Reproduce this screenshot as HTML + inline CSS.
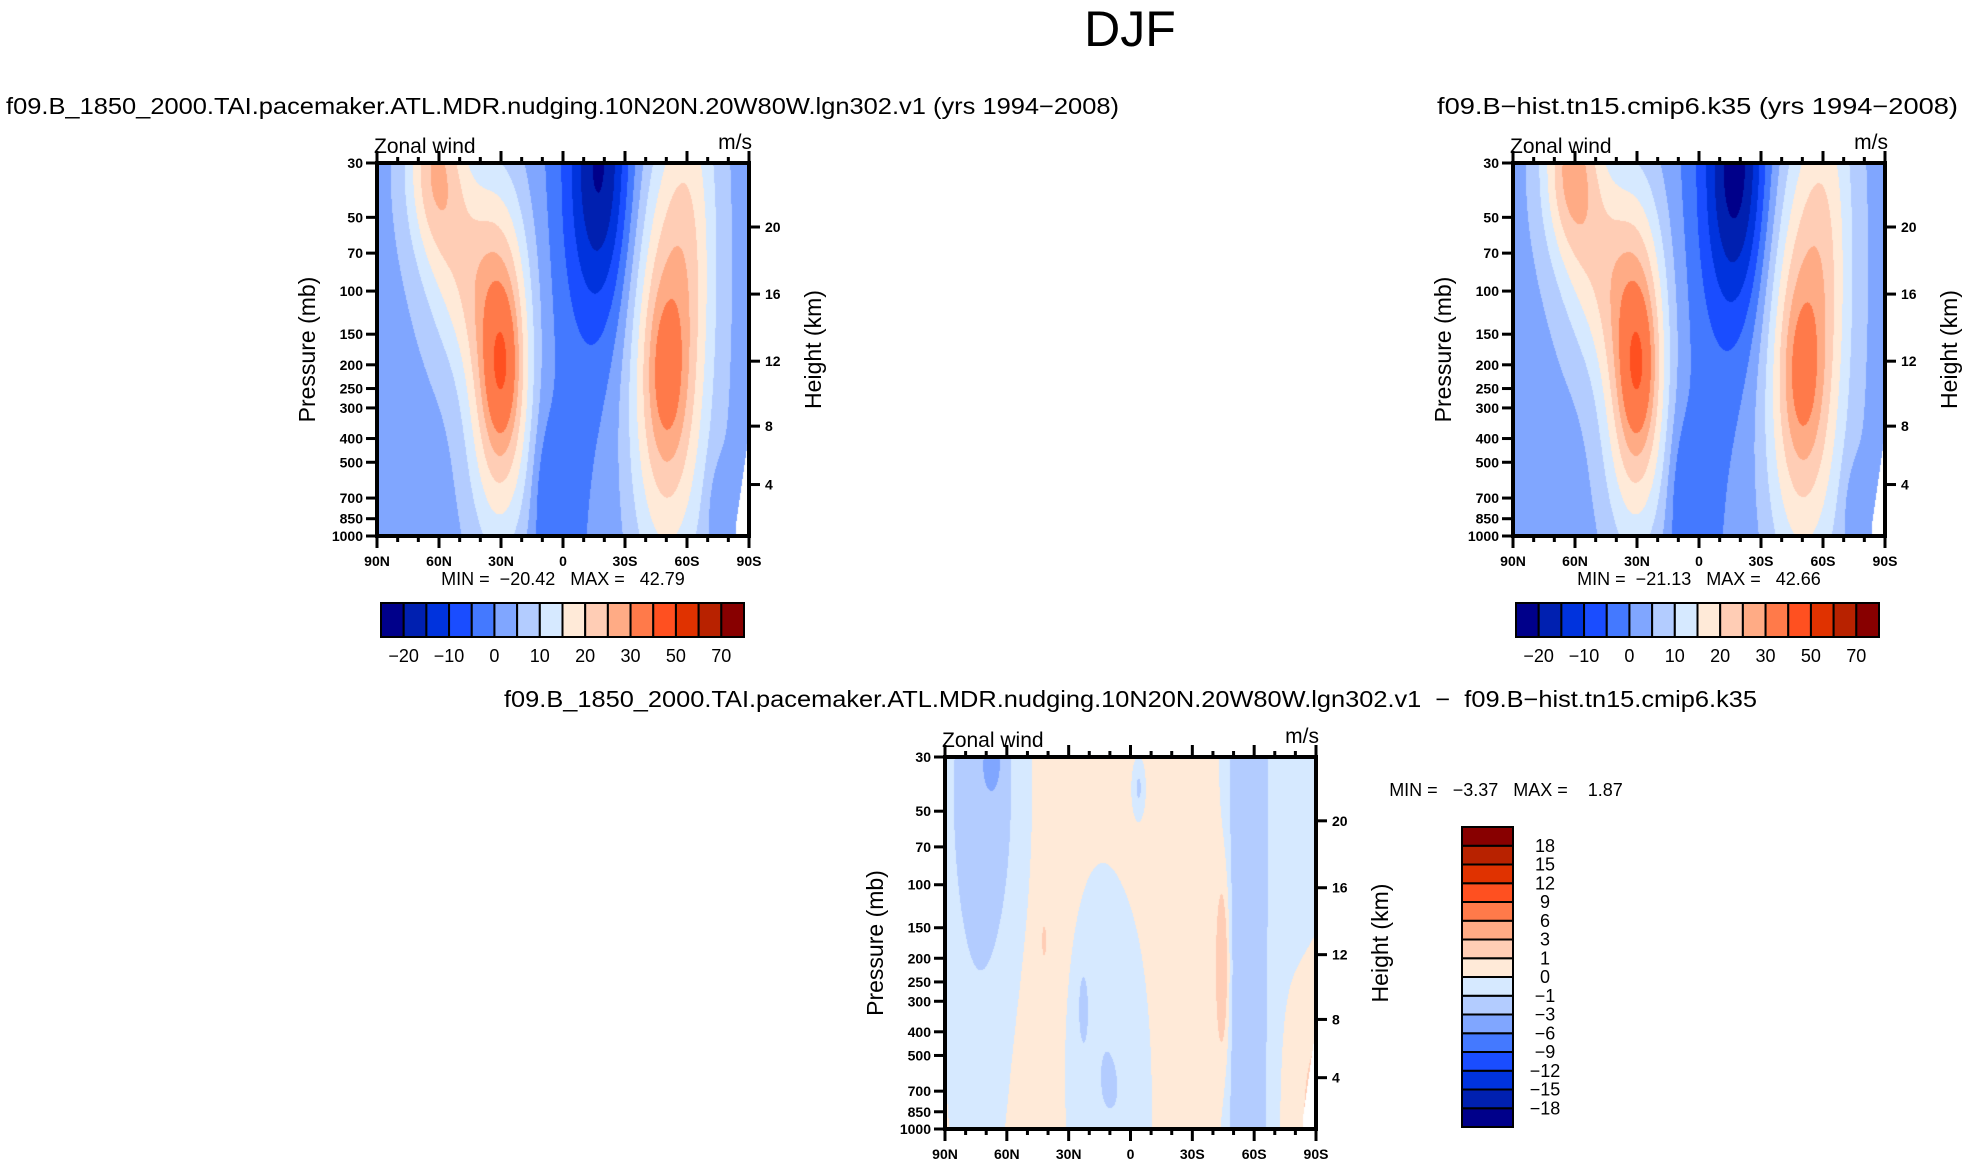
<!DOCTYPE html>
<html><head><meta charset="utf-8">
<style>
html,body{margin:0;padding:0;background:#fff;}
#wrap{position:relative;width:1965px;height:1167px;overflow:hidden;font-family:"Liberation Sans",sans-serif;}
canvas{position:absolute;}
svg{position:absolute;left:0;top:0;}
svg text{white-space:pre;}
</style></head>
<body>
<div id="wrap">
<canvas id="c1" style="left:377px;top:163px" width="372" height="373"></canvas>
<canvas id="c2" style="left:1513px;top:163px" width="372" height="373"></canvas>
<canvas id="c3" style="left:945px;top:757px" width="371" height="372"></canvas>
<svg id="s" width="1965" height="1167"></svg>
</div>
<script>
// ---- data ----
const fullLevels = [-20,-15,-10,-5,0,5,10,15,20,25,30,40,50,60,70];
const fullLabels = ["-20","-10","0","10","20","30","50","70"];
const fullLabelIdx = [0,2,4,6,8,10,12,14];
const diffLevels = [-18,-15,-12,-9,-6,-3,-1,0,1,3,6,9,12,15,18];
const colors = ["#00008a","#0020b0","#0033dd","#1a4dff","#4479ff","#80a6ff","#b3ccff","#d6e9ff","#ffead8","#ffcdb5","#ffab85","#ff7a4a","#ff5020","#e03200","#b82200","#880000"];
const pressureTicks = [30,50,70,100,150,200,250,300,400,500,700,850,1000];
const heightTicks = [4,8,12,16,20];
const latTicks = [90,60,30,0,-30,-60,-90];
const latLabels = ["90N","60N","30N","0","30S","60S","90S"];

// blob fields: x = latitude (deg, +N), y = pressure (mb)
const b1Lat = [30,62,50,-50,-62,-18,2,8,-75,30,-50];
const b1P   = [200,30,80,220,40,30,300,700,800,200,220];
const b1SLat= [11,10,12,13,10,11,22,5,4,5,6];
const b1SY  = [0.32,0.18,0.2,0.38,0.35,0.3,0.9,0.15,0.1,0.12,0.14];
const b1Amp = [30,20,12,24,10,-22,-4,-6,-4,10,7];
const b2Amp = [30,22,12,24,10,-24,-4,-6,-4,10,6];
const base1 = 3;
const b3Lat = [72,67,14,-1,-56,-60,-45,42,23,-4,-90,-85,75];
const b3P   = [40,32,600,900,300,300,220,170,320,40,800,40,700];
const b3SLat= [12,3,11,7,6,9,2.5,1,1.2,2,8,10,12];
const b3SY  = [0.35,0.05,0.35,0.3,2,2,0.18,0.04,0.05,0.05,0.3,0.4,0.35];
const b3Amp = [-2.6,-2.5,-1.3,-0.6,-2.2,-1.0,2.3,1.2,-2.5,-1.5,1.0,-1.2,-0.6];
const base3 = 0.35;

const logTop=Math.log10(30), logBot=Math.log10(1000);
function pFrac(p){return (Math.log10(p)-logTop)/(logBot-logTop);}
function latFrac(l){return (90-l)/180;}
function zToP(z){return z<=11?1013.25*Math.pow(1-6.5*z/288.15,5.2559):226.32*Math.exp(-(z-11)/6.3416);}

function field(lat,p,lats,ps,slats,sys,amps,base){
  let v=base; const yf=pFrac(p);
  for(let i=0;i<amps.length;i++){
    const dx=(lat-lats[i])/slats[i], dy=(yf-pFrac(ps[i]))/sys[i];
    v+=amps[i]*Math.exp(-0.5*(dx*dx+dy*dy));
  }
  return v;
}
function colorIdx(v,levels){let k=0;while(k<levels.length&&v>=levels[k])k++;return k;}
function hex(c){return [parseInt(c.substr(1,2),16),parseInt(c.substr(3,2),16),parseInt(c.substr(5,2),16)];}
const rgb=colors.map(hex);

function drawField(id,amps,lats,ps,slats,sys,base,levels,mask){
  const cv=document.getElementById(id),ctx=cv.getContext('2d');
  const W=cv.width,H=cv.height,img=ctx.createImageData(W,H);
  for(let j=0;j<H;j++){
    const yf=j/(H-1), p=Math.pow(10,logTop+yf*(logBot-logTop));
    for(let i=0;i<W;i++){
      const xf=i/(W-1), lat=90-xf*180;
      let c=[255,255,255];
      if(!(mask && xf>0.965 && yf>0.98-(xf-0.965)*7)){
        c=rgb[colorIdx(field(lat,p,lats,ps,slats,sys,amps,base),levels)];
      }
      const o=(j*W+i)*4;img.data[o]=c[0];img.data[o+1]=c[1];img.data[o+2]=c[2];img.data[o+3]=255;
    }
  }
  ctx.putImageData(img,0,0);
}
drawField('c1',b1Amp,b1Lat,b1P,b1SLat,b1SY,base1,fullLevels,true);
drawField('c2',b2Amp,b1Lat,b1P,b1SLat,b1SY,base1,fullLevels,true);
drawField('c3',b3Amp,b3Lat,b3P,b3SLat,b3SY,base3,diffLevels,true);

// ---- SVG overlay ----
const S=document.getElementById('s'),NS='http://www.w3.org/2000/svg';
function el(tag,attrs,parent){const e=document.createElementNS(NS,tag);for(const k in attrs)e.setAttribute(k,attrs[k]);(parent||S).appendChild(e);return e;}
function txt(x,y,s,size,anchor,extra){const t=el('text',Object.assign({x:x,y:y,'font-size':size,'text-anchor':anchor||'start','font-family':'"Liberation Sans",sans-serif',fill:'#000'},extra||{}));t.textContent=s;return t;}

let t=txt(1130,46,'DJF',50,'middle',{'font-weight':'normal'});


function panel(L,T,W,H,name,minmaxX,minmaxY,minmax){
  const g=el('g',{});
  
  el('rect',{x:L,y:T,width:W,height:H,fill:'none',stroke:'#000','stroke-width':4},g);
  pressureTicks.forEach(p=>{const y=T+pFrac(p)*H;
    el('line',{x1:L-11,x2:L,y1:y,y2:y,stroke:'#000','stroke-width':3},g);
    const tt=txt(L-14,y+5,String(p),14,'end',{'font-weight':'bold'});g.appendChild(tt);
    });
  heightTicks.forEach(z=>{const y=T+pFrac(zToP(z))*H;
    el('line',{x1:L+W,x2:L+W+11,y1:y,y2:y,stroke:'#000','stroke-width':3},g);
    const tt=txt(L+W+16,y+5,String(z),14,'start',{'font-weight':'bold'});g.appendChild(tt);
    });
  for(let lat=90;lat>=-90;lat-=10){const x=L+latFrac(lat)*W,maj=lat%30===0;
    el('line',{x1:x,x2:x,y1:T+H,y2:T+H+(maj?12:6),stroke:'#000','stroke-width':3},g);
    el('line',{x1:x,x2:x,y1:T,y2:T-(maj?12:6),stroke:'#000','stroke-width':3},g);}
  latTicks.forEach((lat,i)=>{const tt=txt(L+latFrac(lat)*W,T+H+30,latLabels[i],14,'middle',{'font-weight':'bold'});g.appendChild(tt);
    });
  let a=txt(L-62,T+H/2,'Pressure (mb)',23,'middle',{transform:`rotate(-90 ${L-62} ${T+H/2})`});g.appendChild(a);
  
  a=txt(L+W+72,T+H/2,'Height (km)',23,'middle',{transform:`rotate(-90 ${L+W+72} ${T+H/2})`});g.appendChild(a);
  
  a=txt(L-3,T-10,'Zonal wind',21,'start');g.appendChild(a);
  
  a=txt(L+W+3,T-14,'m/s',21,'end');g.appendChild(a);
  
  a=txt(minmaxX,minmaxY,minmax,18,'middle');g.appendChild(a);
  
}
panel(377,163,372,373,'panel-experiment',563,585,'MIN =  \u221220.42   MAX =   42.79');
panel(1513,163,372,373,'panel-control',1699,585,'MIN =  \u221221.13   MAX =   42.66');
panel(945,757,371,372,'panel-difference',1506,796,'MIN =   \u22123.37   MAX =    1.87');

t=txt(6,114,'f09.B_1850_2000.TAI.pacemaker.ATL.MDR.nudging.10N20N.20W80W.lgn302.v1 (yrs 1994\u22122008)',23,'start',{textLength:1113,lengthAdjust:'spacingAndGlyphs'});

t=txt(1437,114,'f09.B\u2212hist.tn15.cmip6.k35 (yrs 1994\u22122008)',23,'start',{textLength:521,lengthAdjust:'spacingAndGlyphs'});

t=txt(504,707,'f09.B_1850_2000.TAI.pacemaker.ATL.MDR.nudging.10N20N.20W80W.lgn302.v1  \u2212  f09.B\u2212hist.tn15.cmip6.k35',23,'start',{textLength:1253,lengthAdjust:'spacingAndGlyphs'});


function hbar(L,T,W,H,name){
  const g=el('g',{});
  const n=colors.length,bw=W/n;
  colors.forEach((c,i)=>{const r=el('rect',{x:L+i*bw,y:T,width:bw,height:H,fill:c,stroke:'#000','stroke-width':2},g);
    });
  fullLabels.forEach((s,i)=>{const tt=txt(L+(fullLabelIdx[i]+1)*bw,T+H+25,s.replace('-','\u2212'),18,'middle');g.appendChild(tt);
    });
}
hbar(381,603,363,34,'colorbar-experiment');
hbar(1516,603,363,34,'colorbar-control');

(function(){
  const L=1462,T=827,W=51,H=300;
  const g=el('g',{});
  const n=colors.length,bh=H/n;
  colors.forEach((c,i)=>{const r=el('rect',{x:L,y:T+(n-1-i)*bh,width:W,height:bh,fill:c,stroke:'#000','stroke-width':2},g);
    });
  diffLevels.forEach((v,i)=>{const y=T+(n-1-i)*bh;const tt=txt(L+W+32,y+6,String(v).replace('-','\u2212'),18,'middle');g.appendChild(tt);
    });
})();
</script>
</body></html>
